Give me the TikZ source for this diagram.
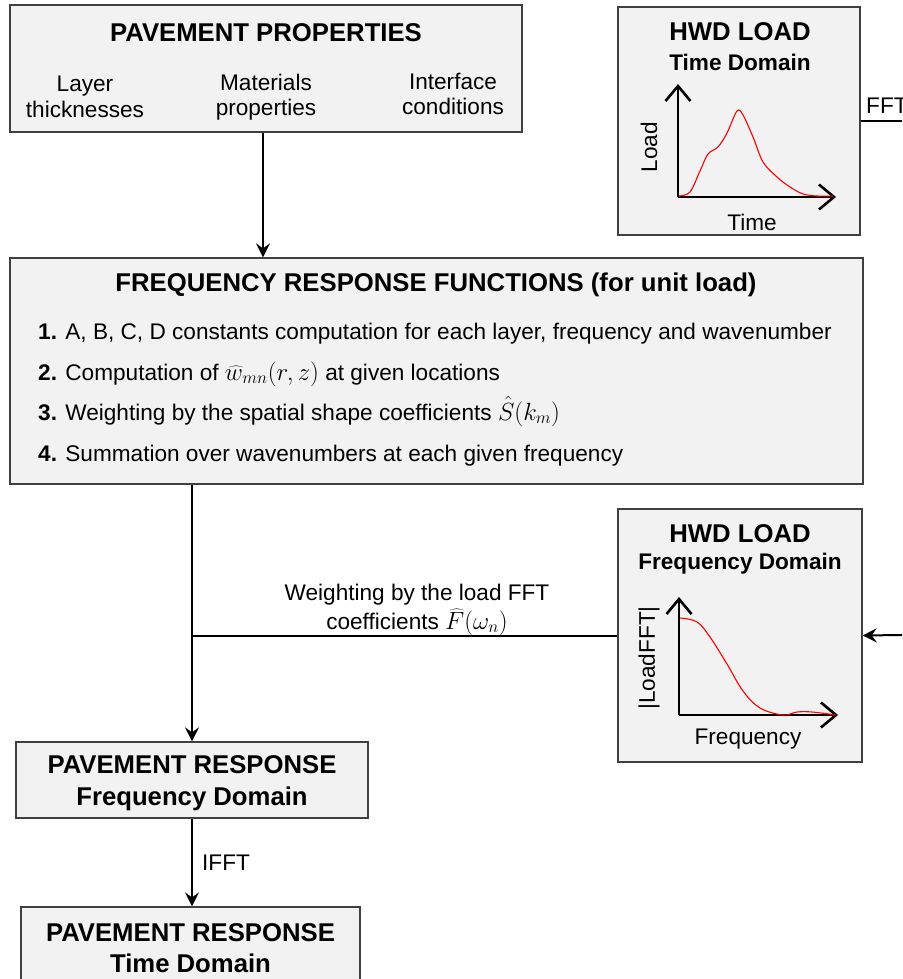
\documentclass[tikz,border=0pt]{standalone}
\usepackage{fontspec}
\setmainfont{Liberation Sans}
\usetikzlibrary{arrows.meta,calc}
\newcommand{\mymath}[1]{{\fontsize{26}{28}\selectfont$#1$}}
\begin{document}
\begin{tikzpicture}[x=1pt,y=-1pt,
  box/.style={draw=black!75, fill=black!5, line width=1.3pt, inner sep=0pt, rectangle},
  ttl/.style={font=\fontsize{25.7}{31.5}\selectfont\bfseries, inner sep=0pt, align=center},
  sub/.style={font=\fontsize{22.6}{26}\selectfont\bfseries, inner sep=0pt},
  txt/.style={font=\fontsize{22.6}{25.5}\selectfont, align=center, inner sep=0pt},
  item/.style={font=\fontsize{22.6}{26}\selectfont, inner sep=0pt, anchor=base west, text height=17pt, text depth=5pt},
  wlab/.style={font=\fontsize{22.6}{26}\selectfont, inner sep=0pt, anchor=base, text height=17pt, text depth=5pt},
  conn/.style={line width=2pt, black},
  arr/.style={conn, -{Stealth[length=14pt,width=14pt,inset=5pt]}},
  axis/.style={line width=2.6pt, -{Straight Barb[length=15pt,width=25pt]}},
  curve/.style={red, line width=1.1pt}]
\useasboundingbox (0,0) rectangle (902,979);
\clip (0,0) rectangle (902,979);

% ---- boxes
\node[box, minimum width=512pt, minimum height=127pt] (pp) at (266,68.5) {};
\node[box, minimum width=242pt, minimum height=228pt] (hwdt) at (739,121) {};
\node[box, minimum width=853pt, minimum height=226pt] (frf) at (436.5,371) {};
\node[box, minimum width=244pt, minimum height=253pt] (hwdf) at (740,635.5) {};
\node[box, minimum width=352pt, minimum height=76pt] (prf) at (192,780) {};
\node[box, minimum width=339pt, minimum height=90pt] (prt) at (190.5,952) {};

% ---- pavement properties
\node[ttl] (ppt) at (266,33) {PAVEMENT PROPERTIES};
\node[txt] (pp1) at (85,97) {Layer\\thicknesses};
\node[txt] (pp2) at (266,97) {Materials\\properties};
\node[txt] (pp3) at (453,94) {Interface\\conditions};

% ---- HWD time
\node[ttl] (ht1) at (740,32) {HWD LOAD};
\node[sub] (ht2) at (740,62) {Time Domain};
\coordinate (to) at (678,197);
\coordinate (ty) at (678,84);
\coordinate (tx) at (836,197);
\draw[axis] (to) -- (ty);
\draw[axis] (to) -- (tx);
\draw[curve] plot[smooth, tension=0.55] coordinates {(679,196) (690,192) (700,171) (708,154) (718,147) (727,133) (737,111) (743,115) (753,137) (763,162) (777,177) (790,187) (803,194) (817,196) (833,196)};
\node[txt, rotate=90] (tl) at (649,147) {Load};
\node[txt] (tt) at (752,222) {Time};

% ---- FFT connector
\coordinate (fftend) at (902,121);
\draw[conn] (hwdt.east) -- (fftend);
\node[txt, anchor=west] (fft) at (866,106) {FFT};

% ---- FRF
\node[ttl] (frt) at (436,285) {FREQUENCY RESPONSE FUNCTIONS (for unit load)};
\node[item] (i1) at (38,339) {\textbf{1.} A, B, C, D constants computation for each layer, frequency and wavenumber};
\node[item] (i2) at (38,380) {\textbf{2.} Computation of \mymath{\widehat{w}_{mn}(r,z)} at given locations};
\node[item] (i3) at (38,420) {\textbf{3.} Weighting by the spatial shape coefficients \mymath{\hat{S}(k_m)}};
\node[item] (i4) at (38,461) {\textbf{4.} Summation over wavenumbers at each given frequency};

% ---- HWD frequency
\node[ttl] (hf1) at (740,534) {HWD LOAD};
\node[sub] (hf2) at (740,564) {Frequency Domain};
\coordinate (fo) at (679,715);
\coordinate (fy) at (679,597);
\coordinate (fx) at (838,715);
\draw[axis] (fo) -- (fy);
\draw[axis] (fo) -- (fx);
\draw[curve] plot[smooth, tension=0.6] coordinates {(680,618) (697,622) (710,637) (727,664) (743,691) (760,708) (783,715) (797,712) (812,712) (836,715)};
\node[txt, rotate=90] (fl) at (649,658) {|LoadFFT|};
\node[txt] (ft) at (748,739) {Frequency};

% ---- connectors
\draw[arr] ([xshift=-3pt]pp.south) -- ([xshift=-3pt]pp.south |- frf.north);
\coordinate (j) at (192,636);
\coordinate (rin) at (902,635);
\draw[arr] (prf.north |- frf.south) -- (prf.north);
\draw[conn] (j) -- (j -| hwdf.west);
\draw[arr] (rin) -- (hwdf.east);
\node[wlab] (wl1) at (417,600) {Weighting by the load FFT};
\node[wlab] (wl2) at (417,629) {coefficients \mymath{\widehat{F}(\omega_n)}};

% ---- pavement response
\node[ttl] (pr1) at (192,783) {PAVEMENT RESPONSE\\Frequency Domain};
\draw[arr] (prf.south) -- (prf.south |- prt.north);
\node[txt, anchor=west] (ifft) at (202,863) {IFFT};
\node[ttl] (pr2) at (190.5,948) {PAVEMENT RESPONSE\\Time Domain};
\end{tikzpicture}
\end{document}
